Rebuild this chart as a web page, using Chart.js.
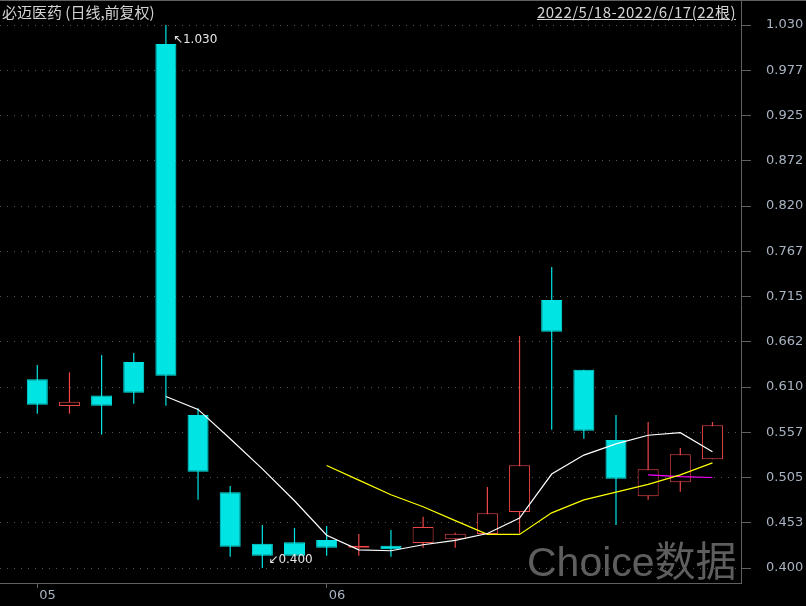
<!DOCTYPE html>
<html>
<head>
<meta charset="utf-8">
<script src="https://cdn.jsdelivr.net/npm/chart.js@4.4.0/dist/chart.umd.min.js"></script>
<style>
  html, body { margin: 0; padding: 0; background: #000; }
  #wrap { position: relative; width: 806px; height: 606px; overflow: hidden; background: #000; }
  #chart { position: absolute; left: 0; top: 0; }
  .title { position: absolute; top: 0; height: 24px; line-height: 24px; font-size: 15px;
           font-family: "Noto Sans CJK SC", sans-serif; color: #d4d4d4; white-space: nowrap; }
  #name { left: 2px; }
  #range { right: 70px; text-decoration: underline; letter-spacing: 0.5px; }
  #mark { position: absolute; left: 527px; top: 542px; font-size: 41px; line-height: 41px;
          font-family: "Liberation Sans", "Noto Sans CJK SC", sans-serif; color: #5e5e5e; white-space: nowrap; }
</style>
</head>
<body>
<div id="wrap">
  <canvas id="chart" width="806" height="606"></canvas>
  <div class="title" id="name">必迈医药 (日线,前复权)</div>
  <div class="title" id="range">2022/5/18-2022/6/17(22根)</div>
  <div id="mark">Choice数据</div>
</div>
<script>
// daily candles, 2022/5/18 - 2022/6/17
const opens  = [0.619, 0.588, 0.600, 0.639, 1.008, 0.5775, 0.488, 0.428, 0.430, 0.4325, 0.4236,
                0.4259, 0.429, 0.4333, 0.4395, 0.465, 0.711, 0.630, 0.5485, 0.4832, 0.4994, 0.5261];
const highs  = [0.6355, 0.627, 0.647, 0.6494, 1.030, 0.5853, 0.4951, 0.4499, 0.4464, 0.4487, 0.4395,
                0.4441, 0.4595, 0.4408, 0.494, 0.6692, 0.7492, 0.630, 0.5775, 0.5694, 0.5392, 0.5694];
const lows   = [0.579, 0.579, 0.5547, 0.5906, 0.5883, 0.4793, 0.4131, 0.400, 0.4143, 0.4143, 0.4143,
                0.4131, 0.4236, 0.4236, 0.4395, 0.4403, 0.5605, 0.550, 0.450, 0.4793, 0.4885, 0.5261];
const closes = [0.5895, 0.593, 0.5883, 0.6034, 0.623, 0.5117, 0.4247, 0.4143, 0.4143, 0.4236, 0.4259,
                0.4217, 0.4476, 0.4396, 0.4635, 0.5192, 0.6742, 0.5593, 0.5036, 0.5145, 0.5319, 0.5656];

// moving averages
const ma5  = [null, null, null, null, 0.599, 0.584, 0.550, 0.515, 0.478, 0.438, 0.421,
              0.420, 0.427, 0.432, 0.440, 0.458, 0.509, 0.531, 0.544, 0.554, 0.557, 0.535];
const ma10 = [null, null, null, null, null, null, null, null, null, 0.519, 0.502,
              0.485, 0.471, 0.455, 0.439, 0.439, 0.464, 0.479, 0.488, 0.497, 0.508, 0.522];
const ma20 = [null, null, null, null, null, null, null, null, null, null, null,
              null, null, null, null, null, null, null, null, 0.508, 0.506, 0.505];

const monthTickIndex  = [0, 9];
const monthTickLabels = ['05', '06'];

const yTickValues = [1.030, 0.9775, 0.925, 0.8725, 0.820, 0.7675, 0.715, 0.6625, 0.610, 0.5575, 0.505, 0.4525, 0.400];
const yTickLabels = ['1.030', '0.977', '0.925', '0.872', '0.820', '0.767', '0.715', '0.662', '0.610', '0.557', '0.505', '0.453', '0.400'];

const UP = '#ec4646';
const DOWN = '#00e4e4';
const FRAME = '#606060';
const GRID = '#555555';
const LABEL = '#a9b4c2';

const idx = opens.map((_, i) => i);
const isUp = idx.map(i => closes[i] >= opens[i]);
const candleColor = idx.map(i => isUp[i] ? UP : DOWN);
const lineData = arr => arr.map((v, i) => ({ x: i, y: v }));

const frame = {
    id: 'frame',
    afterDraw(chart) {
        const ctx = chart.ctx;
        const right = chart.chartArea.right;
        ctx.save();
        ctx.strokeStyle = FRAME;
        ctx.lineWidth = 1;
        ctx.beginPath();
        ctx.moveTo(0, 0.5);
        ctx.lineTo(chart.width, 0.5);
        ctx.moveTo(Math.round(right) + 0.5, 0);
        ctx.lineTo(Math.round(right) + 0.5, chart.chartArea.top);
        ctx.stroke();
        ctx.restore();
    }
};

const extremes = {
    id: 'extremes',
    afterDatasetsDraw(chart) {
        const { ctx, scales: { x, y } } = chart;
        const hi = highs.indexOf(Math.max(...highs));
        const lo = lows.indexOf(Math.min(...lows));
        ctx.save();
        ctx.font = '12px "DejaVu Sans"';
        ctx.fillStyle = '#e6e6e6';
        ctx.textBaseline = 'middle';
        ctx.fillText('\u2196' + highs[hi].toFixed(3), x.getPixelForValue(hi) + 7, y.getPixelForValue(highs[hi]) + 15);
        ctx.fillText('\u2199' + lows[lo].toFixed(3), x.getPixelForValue(lo) + 6, y.getPixelForValue(lows[lo]) - 8);
        ctx.restore();
    }
};

const maLine = (data, color) => ({
    type: 'line', data: lineData(data), borderColor: color, borderWidth: 1.2,
    pointRadius: 0, tension: 0, order: 0
});

new Chart(document.getElementById('chart').getContext('2d'), {
    type: 'bar',
    data: {
        datasets: [
            maLine(ma5, '#ffffff'),
            maLine(ma10, '#ffff00'),
            maLine(ma20, '#ff00ff'),
            {
                type: 'bar',
                data: idx.map(i => ({ x: i, y: [opens[i], closes[i]] })),
                backgroundColor: idx.map(i => isUp[i] ? '#000000' : DOWN),
                borderColor: candleColor,
                borderWidth: 1,
                borderSkipped: false,
                inflateAmount: 0,
                barThickness: 21,
                grouped: false,
                order: 1
            },
            {
                type: 'bar',
                data: idx.map(i => ({ x: i, y: [lows[i], highs[i]] })),
                backgroundColor: candleColor,
                borderWidth: 0,
                inflateAmount: 0,
                barThickness: 1.2,
                grouped: false,
                order: 2
            }
        ]
    },
    options: {
        responsive: false,
        animation: false,
        devicePixelRatio: 1,
        layout: { padding: { top: 25, left: 0, right: 0, bottom: 0 } },
        plugins: { legend: { display: false }, tooltip: { enabled: false } },
        scales: {
            x: {
                type: 'linear',
                position: 'bottom',
                min: -1.16,
                max: 21.888,
                offset: false,
                afterBuildTicks: s => { s.ticks = monthTickIndex.map(v => ({ value: v })); },
                afterFit: s => { s.height = 23; },
                grid: { offset: false, drawOnChartArea: false, tickLength: 5, tickColor: FRAME },
                border: { color: FRAME },
                ticks: {
                    callback: (v, i) => monthTickLabels[i],
                    color: LABEL,
                    font: { family: 'DejaVu Sans', size: 13 },
                    align: 'start',
                    labelOffset: 2,
                    padding: 0,
                    autoSkip: false,
                    maxRotation: 0
                }
            },
            y: {
                type: 'linear',
                position: 'right',
                min: 0.3826,
                max: 1.030,
                bounds: 'data',
                beginAtZero: false,
                afterBuildTicks: s => { s.ticks = yTickValues.map(v => ({ value: v })); },
                afterFit: s => { s.width = 65; },
                grid: { color: GRID, tickLength: 10, tickColor: FRAME },
                border: { color: FRAME, dash: [1, 6] },
                ticks: {
                    callback: (v, i) => yTickLabels[i],
                    color: LABEL,
                    font: { family: 'DejaVu Sans', size: 13 },
                    padding: 15,
                    autoSkip: false
                }
            }
        }
    },
    plugins: [frame, extremes]
});
</script>
</body>
</html>
